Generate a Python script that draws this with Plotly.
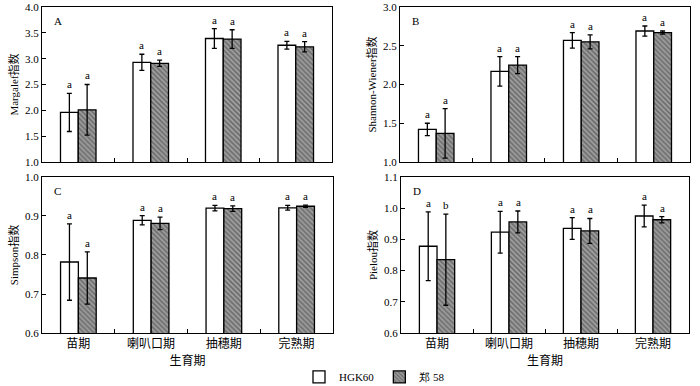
import plotly.graph_objects as go

stages = ["苗期", "喇叭口期", "抽穗期", "完熟期"]
series_names = ["HGK60", "郑 58"]

margalef_hgk = [1.96, 2.93, 3.39, 3.26]
margalef_hgk_err = [0.37, 0.155, 0.19, 0.075]
margalef_z58 = [2.01, 2.91, 3.38, 3.23]
margalef_z58_err = [0.49, 0.06, 0.18, 0.10]
margalef_letters_hgk = ["a", "a", "a", "a"]
margalef_letters_z58 = ["a", "a", "a", "a"]

shannon_hgk = [1.42, 2.17, 2.57, 2.69]
shannon_hgk_err = [0.08, 0.19, 0.10, 0.065]
shannon_z58 = [1.37, 2.25, 2.55, 2.67]
shannon_z58_err = [0.32, 0.11, 0.09, 0.02]
shannon_letters_hgk = ["a", "a", "a", "a"]
shannon_letters_z58 = ["a", "a", "a", "a"]

simpson_hgk = [0.782, 0.889, 0.920, 0.921]
simpson_hgk_err = [0.098, 0.012, 0.007, 0.006]
simpson_z58 = [0.741, 0.881, 0.919, 0.925]
simpson_z58_err = [0.067, 0.016, 0.007, 0.003]
simpson_letters_hgk = ["a", "a", "a", "a"]
simpson_letters_z58 = ["a", "a", "a", "a"]

pielou_hgk = [0.878, 0.923, 0.935, 0.975]
pielou_hgk_err = [0.11, 0.067, 0.035, 0.035]
pielou_z58 = [0.835, 0.956, 0.927, 0.963]
pielou_z58_err = [0.146, 0.035, 0.04, 0.01]
pielou_letters_hgk = ["a", "a", "a", "a"]
pielou_letters_z58 = ["b", "a", "a", "a"]

panels = [
    dict(label="A", ytitle="Margalef指数", yrange=[1.0, 4.0], dtick=0.5, fmt=".1f",
         hgk=margalef_hgk, hgk_err=margalef_hgk_err, z58=margalef_z58, z58_err=margalef_z58_err,
         lh=margalef_letters_hgk, lz=margalef_letters_z58,
         xd=[0.06, 0.4743], yd=[0.5803, 0.9819], bottom=False),
    dict(label="B", ytitle="Shannon-Wiener指数", yrange=[1.0, 3.0], dtick=0.5, fmt=".1f",
         hgk=shannon_hgk, hgk_err=shannon_hgk_err, z58=shannon_z58, z58_err=shannon_z58_err,
         lh=shannon_letters_hgk, lz=shannon_letters_z58,
         xd=[0.5714, 0.9857], yd=[0.5803, 0.9819], bottom=False),
    dict(label="C", ytitle="Simpson指数", yrange=[0.6, 1.0], dtick=0.1, fmt=".1f",
         hgk=simpson_hgk, hgk_err=simpson_hgk_err, z58=simpson_z58, z58_err=simpson_z58_err,
         lh=simpson_letters_hgk, lz=simpson_letters_z58,
         xd=[0.06, 0.4757], yd=[0.1373, 0.5415], bottom=True),
    dict(label="D", ytitle="Pielou指数", yrange=[0.6, 1.1], dtick=0.1, fmt=".1f",
         hgk=pielou_hgk, hgk_err=pielou_hgk_err, z58=pielou_z58, z58_err=pielou_z58_err,
         lh=pielou_letters_hgk, lz=pielou_letters_z58,
         xd=[0.5729, 0.9843], yd=[0.1373, 0.5415], bottom=True),
]

FONT = "Liberation Serif, Times New Roman, serif"
CJK = "Noto Sans CJK SC"

fig = go.Figure()
layout = dict(
    width=700, height=386, margin=dict(l=0, r=0, t=0, b=0, autoexpand=False),
    paper_bgcolor="white", plot_bgcolor="white",
    barmode="group", bargap=0.51, bargroupgap=0.0,
    font=dict(family=FONT, size=11, color="black"),
    showlegend=True,
    legend=dict(orientation="h", x=0.535, xanchor="center", y=-0.014, yanchor="bottom",
                font=dict(family=FONT, size=11), traceorder="normal",
                bgcolor="rgba(0,0,0,0)"),
)
annotations = []

err_style = dict(type="data", visible=True, color="black", thickness=1.3, width=2.5)

for i, p in enumerate(panels):
    n = i + 1
    xa = "x" if n == 1 else f"x{n}"
    ya = "y" if n == 1 else f"y{n}"
    fig.add_trace(go.Bar(
        x=stages, y=p["hgk"], name=series_names[0], xaxis=xa, yaxis=ya,
        marker=dict(color="white", line=dict(color="black", width=1.3)),
        error_y=dict(array=p["hgk_err"], **err_style),
        showlegend=(n == 1), legendgroup="h",
    ))
    fig.add_trace(go.Bar(
        x=stages, y=p["z58"], name=series_names[1], xaxis=xa, yaxis=ya,
        marker=dict(color="#a0a0a0", line=dict(color="black", width=1.3),
                    pattern=dict(shape="\\", fgcolor="#333333", bgcolor="#a0a0a0", size=3.5, solidity=0.45)),
        error_y=dict(array=p["z58_err"], **err_style),
        showlegend=(n == 1), legendgroup="z",
    ))
    xkey = "xaxis" if n == 1 else f"xaxis{n}"
    ykey = "yaxis" if n == 1 else f"yaxis{n}"
    layout[xkey] = dict(
        domain=p["xd"], anchor=ya, type="category", categoryorder="array", categoryarray=stages,
        showline=True, linecolor="black", linewidth=1, mirror=True,
        ticks="inside", ticklen=4, tickcolor="black", tickson="boundaries",
        showticklabels=p["bottom"], showgrid=False, zeroline=False, automargin=False,
        tickfont=dict(family=CJK, size=12),
        title=dict(text="生育期" if p["bottom"] else "", font=dict(family=CJK, size=12), standoff=0),
    )
    layout[ykey] = dict(
        domain=p["yd"], anchor=xa, range=p["yrange"], dtick=p["dtick"], tickformat=p["fmt"],
        showline=True, linecolor="black", linewidth=1, mirror=True,
        ticks="inside", ticklen=4, tickcolor="black", showgrid=False, zeroline=False,
        automargin=False,
        tickfont=dict(family=FONT, size=11),
        title=dict(text=p["ytitle"], font=dict(family="Liberation Serif, Noto Sans CJK SC", size=11), standoff=4),
    )
    annotations.append(dict(text=p["label"], xref=f"{xa} domain", yref=f"{ya} domain",
                            x=0.035, y=0.96, xanchor="left", yanchor="top", showarrow=False,
                            font=dict(family=FONT, size=11)))
    for j, st in enumerate(stages):
        annotations.append(dict(text=p["lh"][j], x=st, y=p["hgk"][j] + p["hgk_err"][j],
                                xref=xa, yref=ya, xshift=-9, yshift=1, yanchor="bottom",
                                showarrow=False, font=dict(family=FONT, size=11)))
        annotations.append(dict(text=p["lz"][j], x=st, y=p["z58"][j] + p["z58_err"][j],
                                xref=xa, yref=ya, xshift=9, yshift=1, yanchor="bottom",
                                showarrow=False, font=dict(family=FONT, size=11)))

layout["annotations"] = annotations
fig.update_layout(**layout)
fig.write_html("out.html", config={"displayModeBar": False},
               post_script="document.body.style.margin='0';document.body.style.padding='0';")
